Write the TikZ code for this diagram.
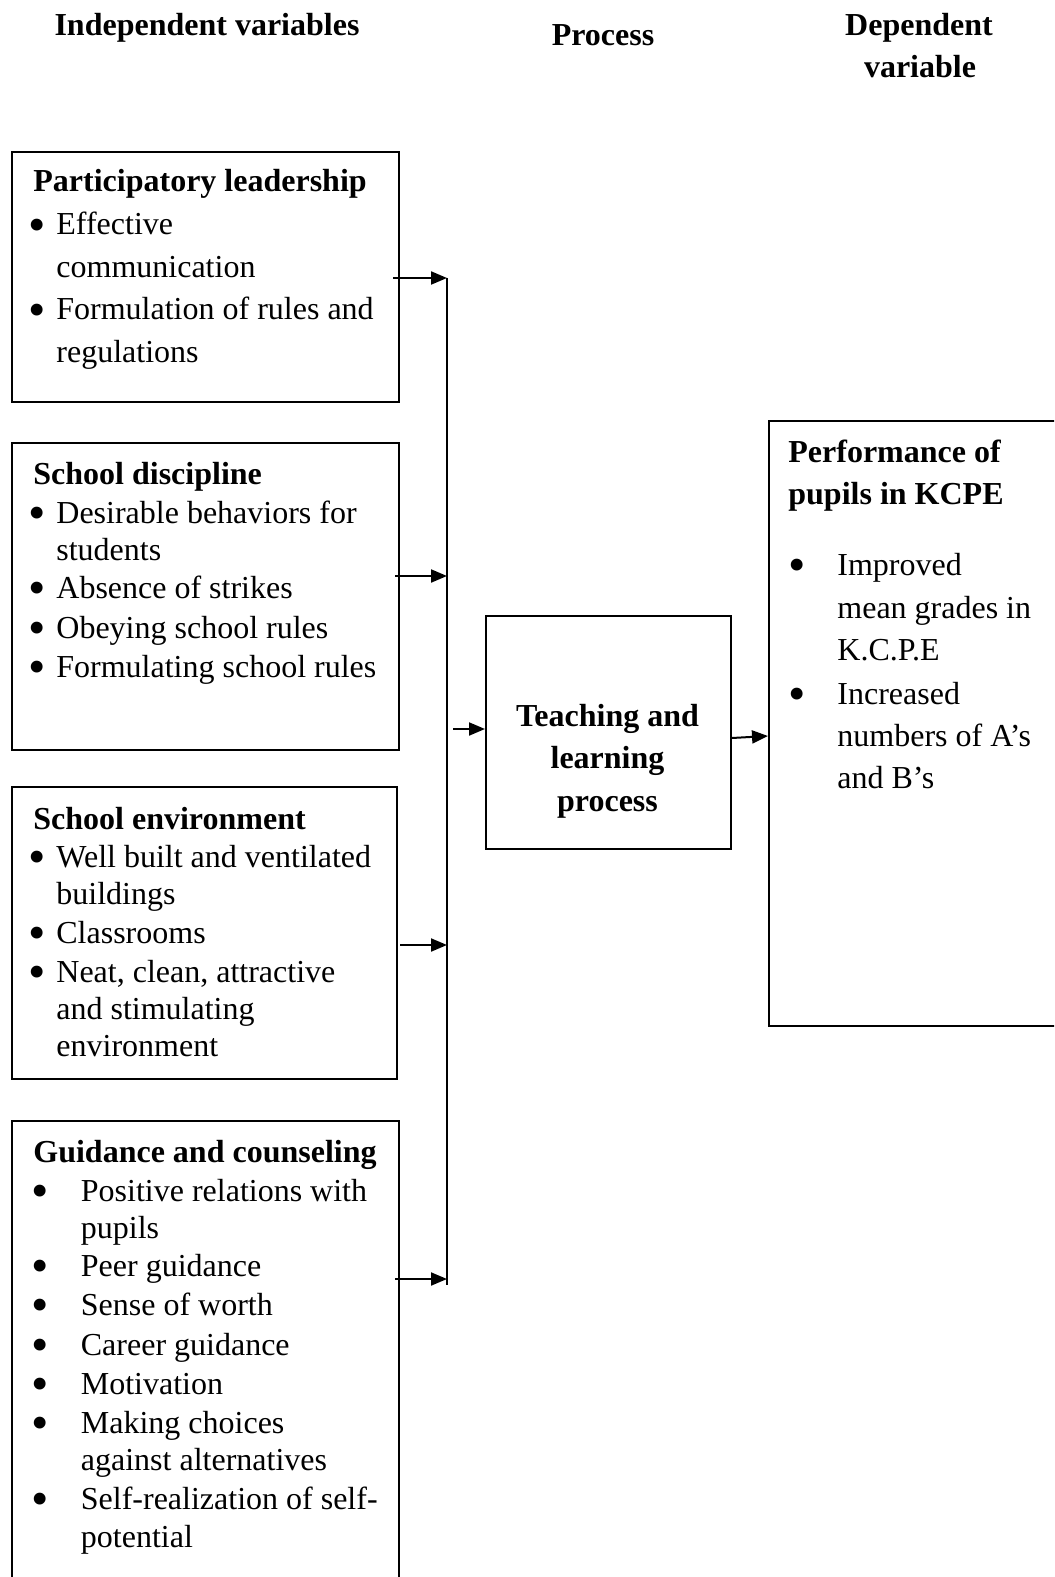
\documentclass[tikz,border=0pt]{standalone}
\usepackage{graphicx}
\usepackage{fontspec}
\setmainfont{Liberation Serif}
\usetikzlibrary{arrows.meta}
\newcommand\bigdot{\smash{\raisebox{-0.2em}{\scalebox{1.55}{\textbullet}}}}
\newcommand\bl{\llap{\bigdot\hspace{5.5pt}}}
\newcommand\bw{\llap{\bigdot\hspace{16pt}}}
\tikzset{
  box/.style={draw,line width=1pt,anchor=north west,inner sep=0pt},
  txt/.style={anchor=base west,inner sep=0pt,font=\fontsize{16}{19}\selectfont},
  hd/.style={txt,font=\fontsize{16}{19}\selectfont\bfseries},
  arr/.style={line width=1pt,-{Triangle[length=8pt,width=6.5pt]}}
}
\begin{document}
\begin{tikzpicture}[x=0.5pt,y=-0.5pt]
\clip (0,0) rectangle (1054,1577);
% column headings
\node[hd,anchor=base] (hind) at (207,36) {Independent variables};
\node[hd,anchor=base] (hpro) at (603,46) {Process};
\node[hd,anchor=base] (hdep1) at (919,36) {Dependent};
\node[hd,anchor=base] (hdep2) at (920,78) {variable};
% boxes
\node[box,minimum width=193.5pt,minimum height=125pt] (pl) at (11,151) {};
\node[box,minimum width=193.5pt,minimum height=153.5pt] (sd) at (11,442) {};
\node[box,minimum width=192.5pt,minimum height=146pt] (se) at (11,786) {};
\node[box,minimum width=193.5pt,minimum height=240pt] (gc) at (11,1120) {};
\node[box,minimum width=122.5pt,minimum height=116.5pt] (tl) at (485,615) {};
\node[box,minimum width=151pt,minimum height=302.5pt] (kcpe) at (768,420) {};
% participatory leadership
\node[hd] (pl0) at (33,192) {Participatory leadership};
\foreach \y/\t [count=\i] in {235/\bl Effective, 278/communication,
  320/\bl Formulation of rules and, 363/regulations}
  \node[txt] (pl\i) at (56,\y) {\t};
% school discipline
\node[hd] (sd0) at (33,484) {School discipline};
\foreach \y/\t [count=\i] in {523/\bl Desirable behaviors for, 560/students,
  598/\bl Absence of strikes, 638/\bl Obeying school rules,
  677/\bl Formulating school rules}
  \node[txt] (sd\i) at (56,\y) {\t};
% school environment
\node[hd] (se0) at (33,829) {School environment};
\foreach \y/\t [count=\i] in {867/\bl Well built and ventilated, 904/buildings,
  943/\bl Classrooms, 982/{\bl Neat, clean, attractive}, 1019/and stimulating,
  1056/environment}
  \node[txt] (se\i) at (56,\y) {\t};
% guidance and counseling
\node[hd] (gc0) at (33,1162) {Guidance and counseling};
\foreach \y/\t [count=\i] in {1201/\bw Positive relations with, 1238/pupils,
  1276/\bw Peer guidance, 1315/\bw Sense of worth, 1355/\bw Career guidance,
  1394/\bw Motivation, 1433/\bw Making choices, 1470/against alternatives,
  1509/\bw Self-realization of self-, 1547/potential}
  \node[txt] (gc\i) at (80.5,\y) {\t};
% process
\foreach \y/\t [count=\i] in {726/Teaching and, 768/learning, 811/process}
  \node[hd,anchor=base] (tl\i) at (607.5,\y) {\t};
% performance
\node[hd] (pf1) at (788,462) {Performance of};
\node[hd] (pf2) at (788,504) {pupils in KCPE};
\foreach \y/\t [count=\i] in {575/\bw Improved, 618/mean grades in, 660/K.C.P.E,
  704/\bw Increased, 746/numbers of A’s, 788/and B’s}
  \node[txt] (pf\i) at (837,\y) {\t};
% connectors
\coordinate (bustop) at (447,278);
\coordinate (busend) at (447,1285);
\draw[line width=1pt] (bustop) -- (busend);
\foreach \y/\x in {278/393, 576/395, 945/400, 1279/395}
  \draw[arr] (\x,\y) -- (bustop |- 0,\y);
\coordinate (into) at (453,729);
\draw[arr] (into) -- (into -| tl.west);
\draw[arr] (tl.east |- 0,738) -- (kcpe.west |- 0,736);
\end{tikzpicture}
\end{document}
